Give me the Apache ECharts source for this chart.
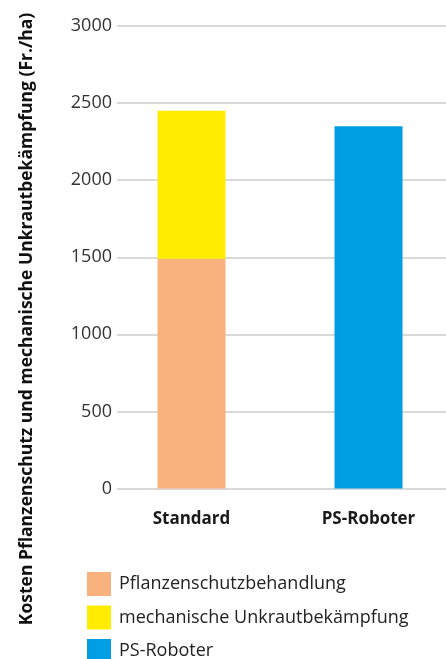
<!DOCTYPE html>
<html>
<head>
<meta charset="utf-8">
<script src="https://cdn.jsdelivr.net/npm/echarts@6/dist/echarts.min.js"></script>
<style>
  html, body { margin: 0; padding: 0; background: #fff; }
  #main { width: 446px; height: 659px; }
</style>
</head>
<body>
<div id="main"></div>
<script>
// Kategorien und Werte (Fr./ha)
var categories = ['Standard', 'PS-Roboter'];
var seriesNames = ['Pflanzenschutzbehandlung', 'mechanische Unkrautbekämpfung', 'PS-Roboter'];
var pflanzenschutz = [1490, '-'];
var mechanisch = [960, '-'];
var roboter = ['-', 2350];
var yTicks = { min: 0, max: 3000, interval: 500 };
var yTitle = 'Kosten Pflanzenschutz und mechanische Unkrautbekämpfung (Fr./ha)';

var colors = ['#F9B27E', '#FFEC00', '#009FE3'];
var font = 'Open Sans';

var myChart = echarts.init(document.getElementById('main'));

var option = {
  animation: false,
  color: colors,
  textStyle: { fontFamily: font },
  // grid 0: nur Achse + Gitterlinien, grid 1: Balken
  grid: [
    { left: 117, right: 0, top: 26, height: 462.5, outerBoundsMode: 'none' },
    { left: 103, width: 354, top: 26, height: 462.5, outerBoundsMode: 'none' }
  ],
  xAxis: [
    { gridIndex: 0, type: 'category', data: categories, show: false },
    {
      gridIndex: 1, type: 'category', data: categories,
      axisLine: { show: false }, axisTick: { show: false },
      axisLabel: { margin: 22, fontSize: 17, fontWeight: 'bold', color: '#1a1a1a', fontFamily: font }
    }
  ],
  yAxis: [
    {
      gridIndex: 0, type: 'value', min: yTicks.min, max: yTicks.max, interval: yTicks.interval,
      axisLine: { show: false }, axisTick: { show: false },
      axisLabel: {
        margin: 5, fontSize: 18, color: '#333', fontFamily: font,
        formatter: function (v) { return String(v); }
      },
      splitLine: { lineStyle: { color: '#d9d9d9', width: 2 } }
    },
    {
      gridIndex: 1, type: 'value', min: yTicks.min, max: yTicks.max, interval: yTicks.interval,
      show: false, splitLine: { show: false }
    }
  ],
  legend: {
    orient: 'vertical', left: 87, top: 572, height: 120, padding: 0,
    itemWidth: 24, itemHeight: 24, itemGap: 9.5,
    icon: 'rect',
    data: seriesNames,
    textStyle: { fontSize: 18, color: '#222', fontFamily: font, padding: [0, 0, 0, 3] }
  },
  graphic: [{
    type: 'text',
    x: 27, y: 319,
    rotation: Math.PI / 2,
    style: {
      text: yTitle,
      font: 'bold 17.5px "' + font + '"',
      fill: '#111',
      align: 'center',
      verticalAlign: 'middle'
    }
  }],
  series: [
    { name: seriesNames[0], type: 'bar', stack: 'k', xAxisIndex: 1, yAxisIndex: 1, barWidth: 68, data: pflanzenschutz },
    { name: seriesNames[1], type: 'bar', stack: 'k', xAxisIndex: 1, yAxisIndex: 1, barWidth: 68, data: mechanisch },
    { name: seriesNames[2], type: 'bar', stack: 'k', xAxisIndex: 1, yAxisIndex: 1, barWidth: 68, data: roboter }
  ]
};

myChart.setOption(option);
</script>
</body>
</html>
